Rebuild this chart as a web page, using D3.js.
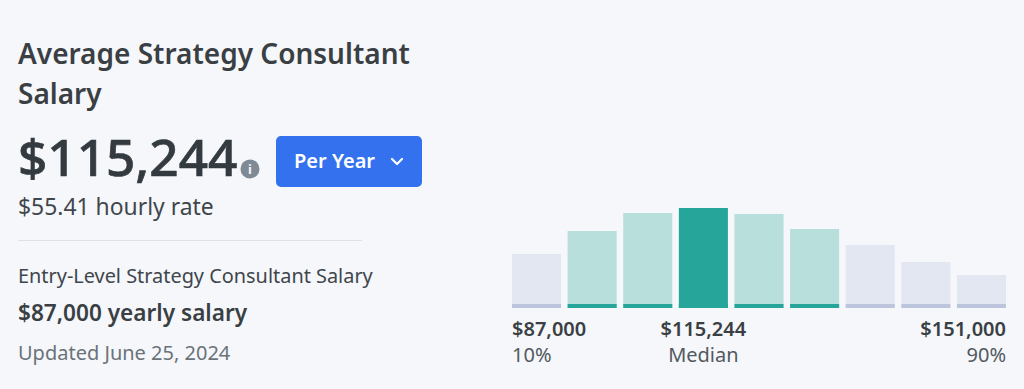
<!DOCTYPE html>
<html>
<head>
<meta charset="utf-8">
<script src="https://cdn.jsdelivr.net/npm/d3@7"></script>
<style>
  html, body { margin: 0; padding: 0; background: #f5f7fb; overflow: hidden; }
  text { font-family: "Noto Sans", sans-serif; }
</style>
</head>
<body>
<div id="graph-container"></div>
<script>
// Bins of the salary histogram, heights (median bin = 100)
const bins = ["b1", "b2", "b3", "b4", "b5", "b6", "b7", "b8", "b9"];
const heights = [54, 77, 95, 100, 94, 79, 63, 46, 33];
const groups = ["outer", "mid", "mid", "median", "mid", "mid", "outer", "outer", "outer"];
const salaryLabels = ["$87,000", "$115,244", "$151,000"];
const rankLabels = ["10%", "Median", "90%"];
const labelBins = ["b1", "b4", "b9"];

const width = 1024;
const height = 389;

const svg = d3.select("#graph-container").append("svg")
    .attr("width", width)
    .attr("height", height)
    .style("display", "block");

const x = d3.scaleBand().domain(bins).range([512, 1006]).paddingInner(0.118);
const y = d3.scaleLinear().domain([0, 100]).range([308, 208]);

const barColor = { outer: "#e3e7f1", mid: "#b8dfdc", median: "#26a69a" };
const stripColor = { outer: "#bcc5dc", mid: "#26a69a", median: "#26a69a" };

// Left hand text block
const textRows = [
    { t: "Average Strategy Consultant", x: 18, y: 64, size: 28, weight: 600, fill: "#3a3f44" },
    { t: "Salary", x: 18, y: 104, size: 28, weight: 600, fill: "#3a3f44" },
    { t: "$115,244", x: 18, y: 176, size: 51.3, weight: 500, fill: "#333a40", stroke: 0.7 },
    { t: "$55.41 hourly rate", x: 18, y: 215, size: 22.9, weight: 400, fill: "#3f464c" },
    { t: "Entry-Level Strategy Consultant Salary", x: 18, y: 283, size: 19.9, weight: 400, fill: "#3f464c" },
    { t: "$87,000 yearly salary", x: 18, y: 321, size: 22.6, weight: 600, fill: "#3a3f44" },
    { t: "Updated June 25, 2024", x: 18, y: 360, size: 20, weight: 400, fill: "#6b7278" }
];

svg.selectAll(".row")
  .data(textRows)
  .enter()
  .append("text")
  .attr("class", "row")
  .attr("x", d => d.x)
  .attr("y", d => d.y)
  .attr("font-size", d => d.size)
  .attr("font-weight", d => d.weight)
  .attr("fill", d => d.fill)
  .attr("stroke", d => d.stroke ? d.fill : null)
  .attr("stroke-width", d => d.stroke || null)
  .text(d => d.t);

// Divider under the hourly rate
svg.append("line")
    .attr("x1", 18).attr("x2", 362)
    .attr("y1", 240.5).attr("y2", 240.5)
    .attr("stroke", "#dfe1e6");

// Info icon
const info = svg.append("g").attr("transform", "translate(250,169)");
info.append("circle").attr("r", 9.5).attr("fill", "#7f8a94");
info.append("text")
    .attr("text-anchor", "middle")
    .attr("y", 4.5)
    .attr("font-size", 13)
    .attr("font-weight", 700)
    .attr("fill", "#f5f7fb")
    .text("i");

// Per Year button
svg.append("rect")
    .attr("x", 276).attr("y", 136)
    .attr("width", 146).attr("height", 51)
    .attr("rx", 5)
    .attr("fill", "#3371ee");
svg.append("text")
    .attr("x", 294).attr("y", 168)
    .attr("font-size", 20)
    .attr("font-weight", 600)
    .attr("fill", "#ffffff")
    .text("Per Year");
svg.append("path")
    .attr("d", "M392 159l5 5l5 -5")
    .attr("fill", "none")
    .attr("stroke", "#ffffff")
    .attr("stroke-width", 2.2)
    .attr("stroke-linecap", "round")
    .attr("stroke-linejoin", "round");

// Bars
svg.selectAll(".bar")
  .data(bins)
  .enter()
  .append("rect")
  .attr("class", "bar")
  .attr("x", d => x(d))
  .attr("y", (d, i) => y(heights[i]))
  .attr("width", x.bandwidth())
  .attr("height", (d, i) => y(0) - y(heights[i]))
  .attr("fill", (d, i) => barColor[groups[i]]);

// Strip along the foot of each bar
svg.selectAll(".strip")
  .data(bins)
  .enter()
  .append("rect")
  .attr("class", "strip")
  .attr("x", d => x(d))
  .attr("y", y(0) - 4)
  .attr("width", x.bandwidth())
  .attr("height", 4)
  .attr("fill", (d, i) => stripColor[groups[i]]);

// Labels under the bars: first left aligned, middle centred, last right aligned
const anchors = ["start", "middle", "end"];
const labelX = (d, i) => {
    if (i === 0) return x(d);
    if (i === 2) return x(d) + x.bandwidth();
    return x(d) + x.bandwidth() / 2;
};

svg.selectAll(".salary")
  .data(labelBins)
  .enter()
  .append("text")
  .attr("class", "salary")
  .attr("x", labelX)
  .attr("y", 336)
  .attr("text-anchor", (d, i) => anchors[i])
  .attr("font-size", 20)
  .attr("font-weight", 600)
  .attr("fill", "#3a3f44")
  .text((d, i) => salaryLabels[i]);

svg.selectAll(".rank")
  .data(labelBins)
  .enter()
  .append("text")
  .attr("class", "rank")
  .attr("x", labelX)
  .attr("y", 362)
  .attr("text-anchor", (d, i) => anchors[i])
  .attr("font-size", 20)
  .attr("fill", "#52595f")
  .text((d, i) => rankLabels[i]);
</script>
</body>
</html>
